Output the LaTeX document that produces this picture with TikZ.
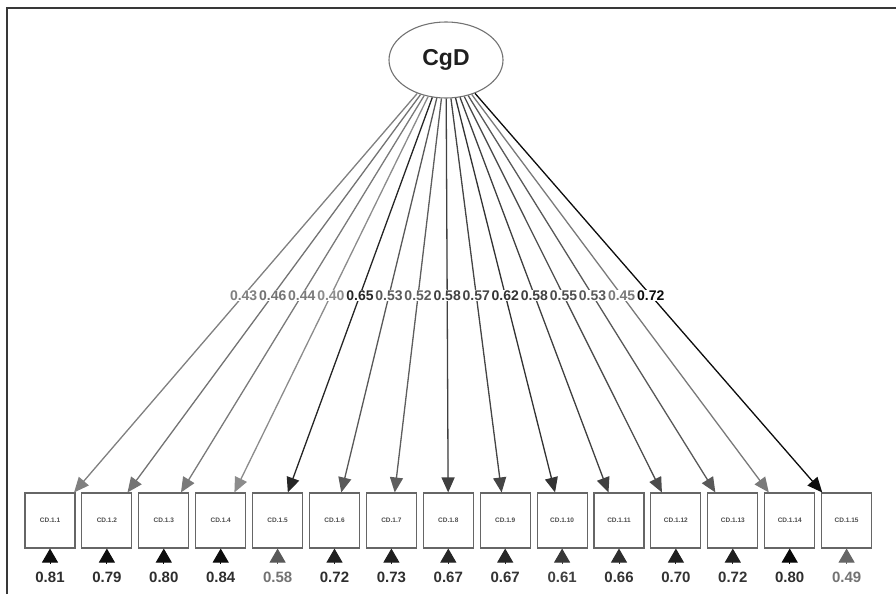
\documentclass[tikz,border=0pt]{standalone}
\usepackage{fontspec}
\setmainfont{Liberation Sans}
\usetikzlibrary{arrows.meta,calc,shapes.geometric}

\tikzset{
  frameline/.style={line width=2pt, draw=black!78},
  latent/.style={ellipse, draw=black!55, line width=1.1pt, minimum width=114pt, minimum height=76pt, inner sep=0pt,
    font=\fontsize{23}{26}\selectfont\bfseries, text=black!88},
  indicator/.style={rectangle, draw=black!60, line width=1.1pt, minimum width=50pt, minimum height=55pt, inner sep=0pt,
    font=\fontsize{6.5}{7}\selectfont\bfseries, text=black!70},
  loadarrow/.style={line width=1.3pt, -{Triangle[length=15pt,width=13pt]}},
  errarrow/.style={line width=1pt, -{Triangle[length=14pt,width=16pt]}},
  loadlabel/.style={fill=white, inner sep=0.4pt, font=\fontsize{14}{16}\selectfont\bfseries},
  errlabel/.style={inner sep=0pt, font=\fontsize{15}{17}\selectfont\bfseries}
}

\begin{document}
\begin{tikzpicture}[x=1pt,y=-1pt]
\useasboundingbox (0,0) rectangle (896,594);

% outer frame: only top and left edges
\draw[frameline] (7,594) -- (7,8) -- (896,8);

% latent factor
\node[latent] (cgd) at (446,60) {CgD};

% indicators, loadings and error terms
\foreach \i/\lv/\lc/\ev/\ea/\et in {
  1/0.43/50/0.81/95/82, 2/0.46/55/0.79/95/82, 3/0.44/52/0.80/95/82,
  4/0.40/45/0.84/95/82, 5/0.65/85/0.58/65/55, 6/0.53/65/0.72/88/82,
  7/0.52/63/0.73/88/82, 8/0.58/75/0.67/85/80, 9/0.57/73/0.67/85/80,
  10/0.62/80/0.61/78/75, 11/0.58/75/0.66/82/80, 12/0.55/70/0.70/88/80,
  13/0.53/65/0.72/88/80, 14/0.45/52/0.80/97/82, 15/0.72/95/0.49/60/55}{
  \pgfmathsetmacro{\xc}{50+(\i-1)*56.9}
  \node[indicator] (b\i) at (\xc,520.5) {CD.1.\i};
  \draw[loadarrow, draw=black!\lc, fill=black!\lc] (cgd) -- (b\i);
  \coordinate (e\i) at ($(b\i.south)+(0,15)$);
  \draw[errarrow, draw=black!\ea, fill=black!\ea] (e\i) -- (b\i.south);
  \node[errlabel, text=black!\et] (v\i) at (\xc,577) {\ev};
}

% loading labels on the paths
\foreach \i/\lv/\lc in {
  1/0.43/50, 2/0.46/55, 3/0.44/52, 4/0.40/45, 5/0.65/85, 6/0.53/65,
  7/0.52/63, 8/0.58/75, 9/0.57/73, 10/0.62/80, 11/0.58/75, 12/0.55/70,
  13/0.53/65, 14/0.45/52, 15/0.72/95}{
  \node[loadlabel, text=black!\lc] (l\i) at ($(cgd.center)!0.511!(b\i.center)$) {\lv};
}
\end{tikzpicture}
\end{document}
